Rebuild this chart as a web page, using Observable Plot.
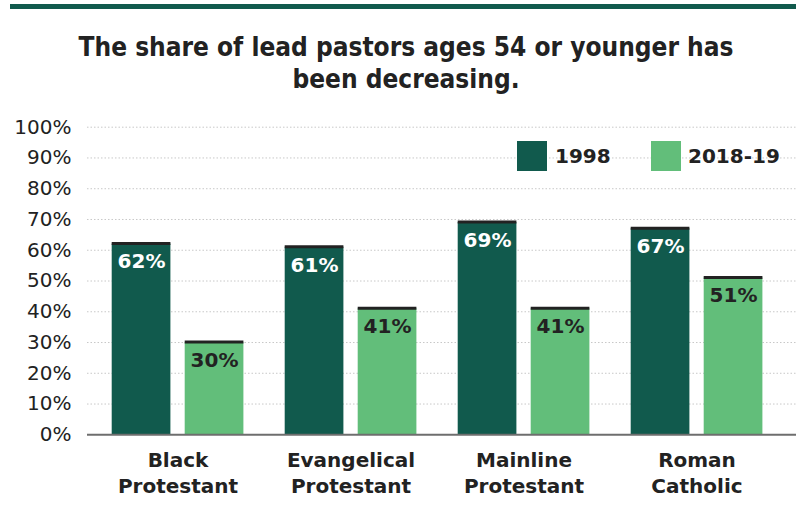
<!DOCTYPE html>
<html>
<head>
<meta charset="utf-8">
<script src="https://cdn.jsdelivr.net/npm/d3@7"></script>
<script src="https://cdn.jsdelivr.net/npm/@observablehq/plot@0.6"></script>
<style>
  html, body { margin: 0; padding: 0; background: #fff; }
  #wrap { position: relative; width: 796px; height: 512px; overflow: hidden; font-family: "DejaVu Sans", sans-serif; color: #222; }
  #rule { position: absolute; left: 10px; top: 4px; width: 786px; height: 5px; background: #115a4d; }
  #title { position: absolute; left: 8px; top: 31px; width: 796px; text-align: center; font-family: "DejaVu Sans", sans-serif; font-stretch: condensed; font-weight: bold; font-size: 26px; line-height: 32px; color: #222; }
  #chart { position: absolute; left: 0; top: 110px; }
  .lg { position: absolute; top: 141px; height: 30px; }
  .sw { position: absolute; width: 30px; height: 30px; top: 0; }
  .lt { position: absolute; top: 0; line-height: 30px; font-weight: bold; font-size: 20px; white-space: nowrap; }
</style>
</head>
<body>
<div id="wrap">
  <div id="rule"></div>
  <div id="title">The share of lead pastors ages 54 or younger has<br>been decreasing.</div>
  <div id="chart"></div>
  <div id="legend"></div>
</div>
<script>
const categories = ["Black Protestant", "Evangelical Protestant", "Mainline Protestant", "Roman Catholic"];
const tickLabels = ["Black\nProtestant", "Evangelical\nProtestant", "Mainline\nProtestant", "Roman\nCatholic"];
const series = ["1998", "2018-19"];
const values1998 = [62, 61, 69, 67];
const values2018 = [30, 41, 41, 51];
const yTicks = [0, 10, 20, 30, 40, 50, 60, 70, 80, 90, 100];
const colors = ["#115a4d", "#62be7a"];
const labelColors = ["#ffffff", "#222222"];

const rows = [];
categories.forEach((c, i) => {
  rows.push({category: c, series: series[0], value: values1998[i]});
  rows.push({category: c, series: series[1], value: values2018[i]});
});
const d98 = rows.filter(d => d.series === series[0]);
const d18 = rows.filter(d => d.series === series[1]);
const labelOf = Object.fromEntries(categories.map((c, i) => [c, tickLabels[i]]));

// geometry of the two bars within each category band (px)
const inset98 = {insetLeft: 20.7, insetRight: 93.6};
const inset18 = {insetLeft: 93.7, insetRight: 20.6};

const chart = Plot.plot({
  width: 796,
  height: 402,
  marginLeft: 87,
  marginRight: 0,
  marginTop: 16.7,
  marginBottom: 77.7,
  style: {fontFamily: "DejaVu Sans, sans-serif", color: "#222", background: "transparent", overflow: "visible"},
  x: {domain: categories, padding: 0, insetLeft: 3.3, insetRight: 12.5},
  y: {domain: [0, 100], label: null},
  marks: [
    Plot.ruleY(yTicks.filter(t => t > 0), {stroke: "#c8c8c8", strokeWidth: 1, strokeDasharray: "1.5,2"}),
    Plot.barY(d98, {x: "category", y: "value", fill: colors[0], ...inset98}),
    Plot.barY(d18, {x: "category", y: "value", fill: colors[1], ...inset18}),
    Plot.tickY(d98, {x: "category", y: "value", stroke: "#222", strokeWidth: 3, dy: -0.5, ...inset98}),
    Plot.tickY(d18, {x: "category", y: "value", stroke: "#222", strokeWidth: 3, dy: -0.5, ...inset18}),
    Plot.text(d98, {x: "category", y: "value", text: d => `${d.value}%`, dx: -36.5, dy: 18, fill: labelColors[0], fontWeight: "bold", fontSize: 20}),
    Plot.text(d18, {x: "category", y: "value", text: d => `${d.value}%`, dx: 36.5, dy: 18, fill: labelColors[1], fontWeight: "bold", fontSize: 20}),
    Plot.ruleY([0], {stroke: "#6e6e6e", strokeWidth: 2}),
    Plot.axisY({ticks: yTicks, tickFormat: d => `${d}%`, tickSize: 0, tickPadding: 16, fontSize: 20, label: null, fill: "#222"}),
    Plot.axisX({tickFormat: d => labelOf[d], tickSize: 0, tickPadding: 14, fontSize: 20, fontWeight: "bold", label: null, fill: "#222", lineHeight: 1.3})
  ]
});
document.getElementById("chart").appendChild(chart);

// legend
const legend = document.getElementById("legend");
const legendX = [[517, 555], [651, 688]];
series.forEach((s, i) => {
  const sw = document.createElement("div");
  sw.className = "lg";
  sw.style.left = legendX[i][0] + "px";
  sw.innerHTML = `<div class="sw" style="background:${colors[i]}"></div>`;
  legend.appendChild(sw);
  const t = document.createElement("div");
  t.className = "lg";
  t.style.left = legendX[i][1] + "px";
  t.innerHTML = `<div class="lt">${s}</div>`;
  legend.appendChild(t);
});
</script>
</body>
</html>
